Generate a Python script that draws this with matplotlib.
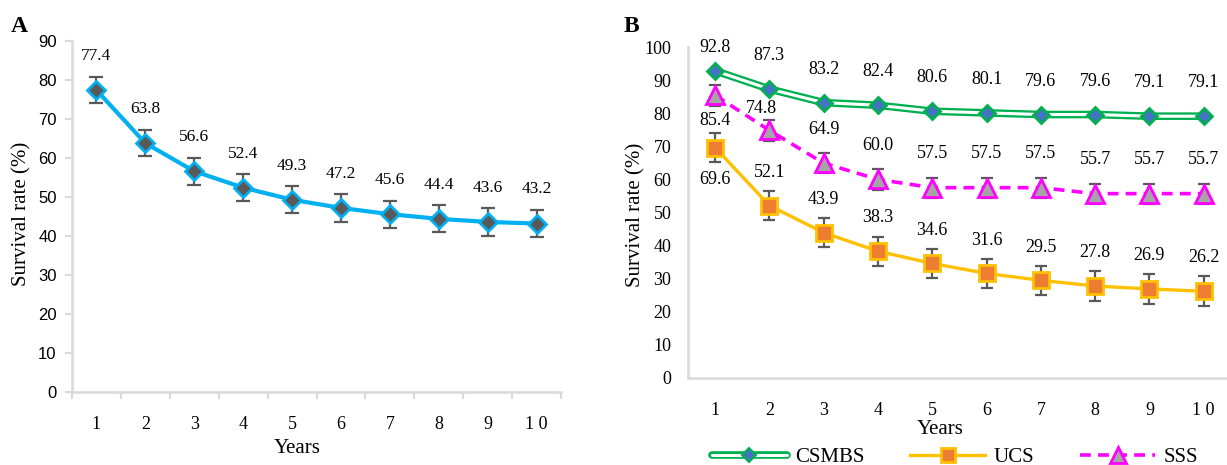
import matplotlib
matplotlib.use("Agg")
import matplotlib.pyplot as plt
from matplotlib.lines import Line2D
import numpy as np

# ---------------- data ----------------
years = [1, 2, 3, 4, 5, 6, 7, 8, 9, 10]
year_labels = ["1", "2", "3", "4", "5", "6", "7", "8", "9", "1 0"]

overall = [77.4, 63.8, 56.6, 52.4, 49.3, 47.2, 45.6, 44.4, 43.6, 43.2]
overall_err = [3.4, 3.4, 3.4, 3.5, 3.5, 3.5, 3.5, 3.5, 3.5, 3.5]

csmbs = [92.8, 87.3, 83.2, 82.4, 80.6, 80.1, 79.6, 79.6, 79.1, 79.1]
ucs = [69.6, 52.1, 43.9, 38.3, 34.6, 31.6, 29.5, 27.8, 26.9, 26.2]
ucs_err = [4.4, 4.4, 4.4, 4.4, 4.4, 4.4, 4.4, 4.4, 4.5, 4.5]
sss = [85.4, 74.8, 64.9, 60.0, 57.5, 57.5, 57.5, 55.7, 55.7, 55.7]
sss_err = [3.1, 3.1, 3.1, 3.1, 3.0, 3.0, 3.0, 3.0, 3.0, 3.0]

# ---------------- style ----------------
plt.rcParams['font.family'] = ['Liberation Serif', 'DejaVu Serif']
GRID = '#D9D9D9'
ERR = '#595959'

fig = plt.figure(figsize=(12.27, 4.65), dpi=100)
W, H = 1227.0, 465.0

def px(x0, y0, x1, y1):
    return [x0 / W, 1 - y1 / H, (x1 - x0) / W, (y1 - y0) / H]

# ---------------- Panel A ----------------
axA = fig.add_axes(px(72, 41, 561, 392))
axA.errorbar(years, overall, yerr=overall_err, fmt='none', ecolor=ERR,
             elinewidth=1.6, capsize=5, capthick=1.6, zorder=2)
axA.plot(years, overall, color='#00B0F0', lw=3, marker='D', ms=9.5,
         mfc='#595959', mec='#00B0F0', mew=2, zorder=3)
for x, v in zip(years, overall):
    axA.annotate(f"{v:.1f}", (x, v), xytext=(0, 24.5), textcoords='offset points',
                 ha='center', va='center', fontsize=12.5, annotation_clip=False)
axA.set_xlim(0.5, 10.5)
axA.set_ylim(0, 90)
axA.set_yticks(range(0, 91, 10))
axA.set_xticks(years)
axA.set_xticklabels(year_labels)
axA.set_xticks(np.arange(0.5, 10.6, 1), minor=True)
axA.tick_params(axis='x', which='major', length=0, pad=17, labelsize=13)
axA.tick_params(axis='x', which='minor', length=5, width=1.5, color=GRID)
axA.tick_params(axis='y', length=5, width=1.5, color=GRID, pad=6, labelsize=12)
for lab in axA.get_yticklabels():
    lab.set_family(['Liberation Sans', 'DejaVu Sans'])
for s in ['top', 'right']:
    axA.spines[s].set_visible(False)
for s in ['left', 'bottom']:
    axA.spines[s].set_color(GRID)
    axA.spines[s].set_linewidth(1.8)
fig.text(22 / W, 1 - 214 / H, "Survival rate (%)", rotation=90, ha='center',
         va='center', fontsize=15)
fig.text(297 / W, 1 - 448 / H, "Years", ha='center', va='center', fontsize=15)
fig.text(19 / W, 1 - 26 / H, "A", ha='center', va='center', fontsize=17,
         fontweight='bold')

# ---------------- Panel B ----------------
axB = fig.add_axes(px(688, 47, 1227, 378))
axB.errorbar(years, ucs, yerr=ucs_err, fmt='none', ecolor=ERR,
             elinewidth=1.6, capsize=4.5, capthick=1.6, zorder=2)
axB.errorbar(years, sss, yerr=sss_err, fmt='none', ecolor=ERR,
             elinewidth=1.6, capsize=4.5, capthick=1.6, zorder=2)
# CSMBS double line
axB.plot(years, csmbs, color='#00B050', lw=5.5, zorder=3, solid_capstyle='butt')
axB.plot(years, csmbs, color='white', lw=2.2, zorder=3.1, solid_capstyle='butt')
axB.plot(years, csmbs, ls='none', marker='D', ms=8.5, mfc='#4472C4',
         mec='#00B050', mew=2, zorder=3.2)
axB.plot(years, ucs, color='#FFC000', lw=2.4, marker='s', ms=12,
         mfc='#ED7D31', mec='#FFC000', mew=2, zorder=3)
axB.plot(years, sss, color='#FF00FF', lw=2.6, ls=(0, (3, 2)), marker='^', ms=13,
         mfc='#A5A5A5', mec='#FF00FF', mew=2, zorder=3)

csmbs_off = [(0, 17)] + [(0, 24)] * 9
sss_off = [(0, -18), (-6, 16)] + [(0, 24.5)] * 8
ucs_off = [(0, -23)] + [(0, 24)] * 9
for vals, offs in [(csmbs, csmbs_off), (sss, sss_off), (ucs, ucs_off)]:
    for x, v, o in zip(years, vals, offs):
        axB.annotate(f"{v:.1f}", (x, v), xytext=o, textcoords='offset points',
                     ha='center', va='center', fontsize=13, annotation_clip=False)

axB.set_xlim(0.5, 10.43)
axB.set_ylim(0, 100)
axB.set_yticks(range(0, 101, 10))
axB.set_xticks(years)
axB.set_xticklabels(year_labels)
axB.tick_params(axis='x', length=0, pad=17, labelsize=13)
axB.tick_params(axis='y', length=0, pad=12, labelsize=13)
for s in ['top', 'right']:
    axB.spines[s].set_visible(False)
for s in ['left', 'bottom']:
    axB.spines[s].set_color(GRID)
    axB.spines[s].set_linewidth(1.8)
fig.text(636 / W, 1 - 215 / H, "Survival rate (%)", rotation=90, ha='center',
         va='center', fontsize=15)
fig.text(940 / W, 1 - 429 / H, "Years", ha='center', va='center', fontsize=15)
fig.text(631 / W, 1 - 27 / H, "B", ha='center', va='center', fontsize=17,
         fontweight='bold')

# legend
h_cs = (Line2D([], [], color='#00B050', lw=5.5, solid_capstyle='round'),
        Line2D([], [], color='white', lw=2.2, solid_capstyle='round'),
        Line2D([], [], ls='none', marker='D', ms=7, mfc='#4472C4', mec='#00B050', mew=1.5))
h_ucs = Line2D([], [], color='#FFC000', lw=2.4, marker='s', ms=10,
               mfc='#ED7D31', mec='#FFC000', mew=2)
h_sss = Line2D([], [], color='#FF00FF', lw=2.6, ls=(0, (3, 2)), marker='^', ms=11,
               mfc='#A5A5A5', mec='#FF00FF', mew=2)
fig.legend([h_cs, h_ucs, h_sss], ["CSMBS", "UCS", "SSS"], ncol=3, frameon=False,
           loc='center', bbox_to_anchor=(955 / W, 1 - 457 / H), fontsize=15,
           handlelength=3.6, columnspacing=2.2, handletextpad=0.4,
           borderaxespad=0, borderpad=0)

fig.savefig("out.png", dpi=100)
